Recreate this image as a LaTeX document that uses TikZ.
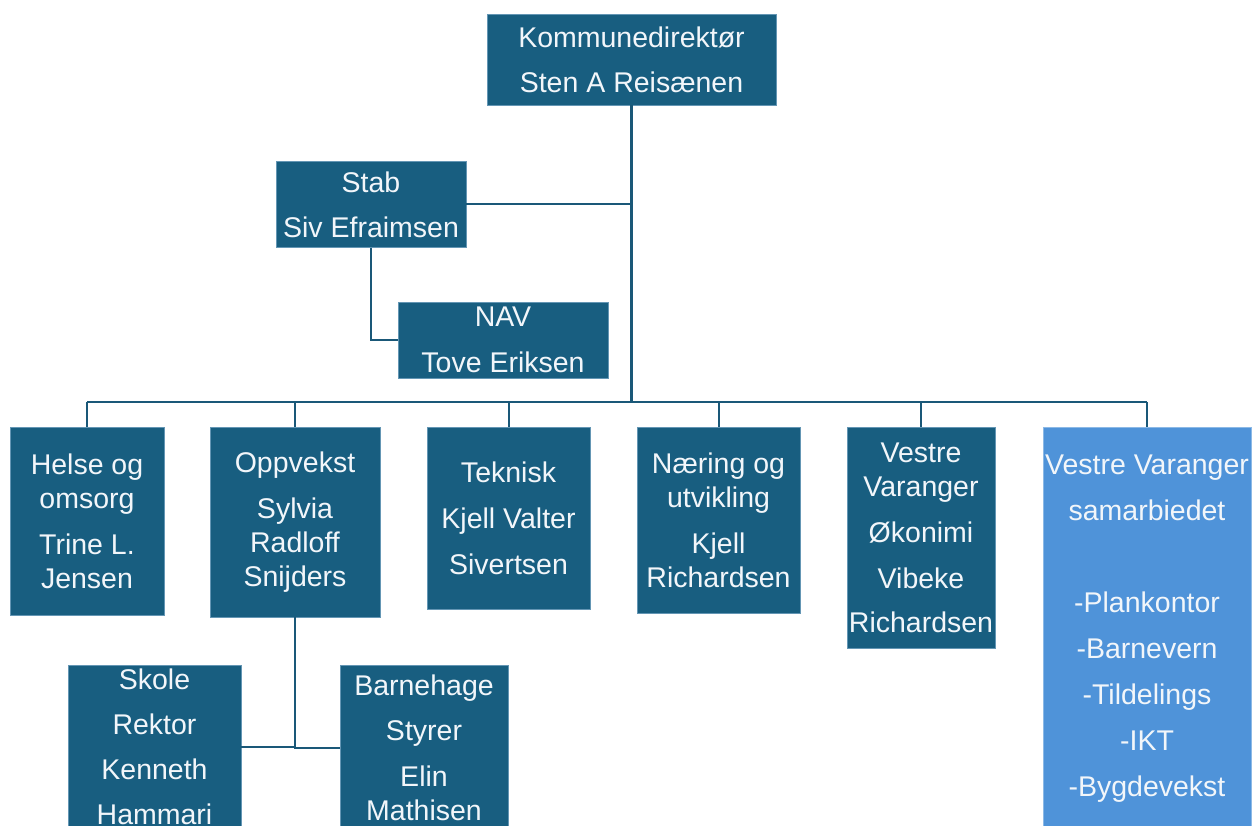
\documentclass[tikz,border=0pt]{standalone}
\usepackage{fontspec}
\setmainfont{Liberation Sans}
\definecolor{boxfill}{RGB}{24,94,128}
\definecolor{boxedge}{RGB}{100,150,180}
\definecolor{lightfill}{RGB}{79,147,217}
\definecolor{lightedge}{RGB}{140,185,230}
\definecolor{linecol}{RGB}{26,88,120}
\definecolor{txt}{RGB}{242,246,250}
\tikzset{
  orgbox/.style={draw=boxedge, line width=0.8pt, fill=boxfill, text=txt, align=center,
    inner sep=0pt, font=\fontsize{28.5}{34}\selectfont},
  lightbox/.style={orgbox, draw=lightedge, fill=lightfill},
  conn/.style={draw=linecol, line width=2pt},
  trunk/.style={draw=linecol, line width=3pt},
}
\begin{document}
\begin{tikzpicture}[x=1pt,y=-1pt]
\useasboundingbox (0,0) rectangle (1253,826);
\node[orgbox, minimum width=289pt, minimum height=91pt] (kd) at (631.5,59.5) {Kommunedirektør\\[11pt]Sten A Reisænen};
\node[orgbox, minimum width=190pt, minimum height=86pt] (stab) at (371,204.5) {Stab\\[11pt]Siv Efraimsen};
\node[orgbox, minimum width=210pt, minimum height=76pt] (nav) at (503,340) {NAV\\[12pt]Tove Eriksen};
\node[orgbox, minimum width=154pt, minimum height=188pt] (helse) at (87,521) {Helse og\\omsorg\\[12pt]Trine L.\\Jensen};
\node[orgbox, minimum width=170pt, minimum height=190pt] (opp) at (295,522) {Oppvekst\\[12pt]Sylvia\\Radloff\\Snijders};
\node[orgbox, minimum width=163pt, minimum height=182pt] (tek) at (508.5,518) {Teknisk\\[12pt]Kjell Valter\\[12pt]Sivertsen};
\node[orgbox, minimum width=163pt, minimum height=186pt] (nar) at (718.5,520) {Næring og\\utvikling\\[12pt]Kjell\\Richardsen};
\node[orgbox, minimum width=148pt, minimum height=221pt] (vvo) at (921,537.5) {Vestre\\Varanger\\[12pt]Økonimi\\[12pt]Vibeke\\[10pt]Richardsen};
\node[lightbox, minimum width=208pt, minimum height=404pt] (vvs) at (1147,629) {Vestre Varanger\\[12pt]samarbiedet\\[12pt]\strut\\[12pt]-Plankontor\\[12pt]-Barnevern\\[12pt]-Tildelings\\[12pt]-IKT\\[12pt]-Bygdevekst};
\node[orgbox, minimum width=173pt, minimum height=164pt] (skole) at (154.5,747) {Skole\\[11pt]Rektor\\[11pt]Kenneth\\[11pt]Hammari};
\node[orgbox, minimum width=168pt, minimum height=165pt] (barn) at (424,747.5) {Barnehage\\[11pt]Styrer\\[12pt]Elin\\Mathisen};
\coordinate (busL) at (87,402);
\coordinate (busR) at (1147,402);
% connectors
\draw[trunk] (kd.south) -- (kd.south |- busL);
\draw[conn] (busL) -- (busR);
\draw[conn] (stab.east) -- (stab.east -| kd.south);
\draw[conn] (stab.south) -- (stab.south |- nav.west) -- (nav.west);
\foreach \n in {helse,opp,tek,nar,vvo,vvs}{
  \draw[conn] (\n.north) -- (\n.north |- busL);
}
\draw[conn] (opp.south) -- (opp.south |- barn.west) -- (barn.west);
\draw[conn] (skole.east) -- (skole.east -| opp.south);
\end{tikzpicture}
\end{document}
